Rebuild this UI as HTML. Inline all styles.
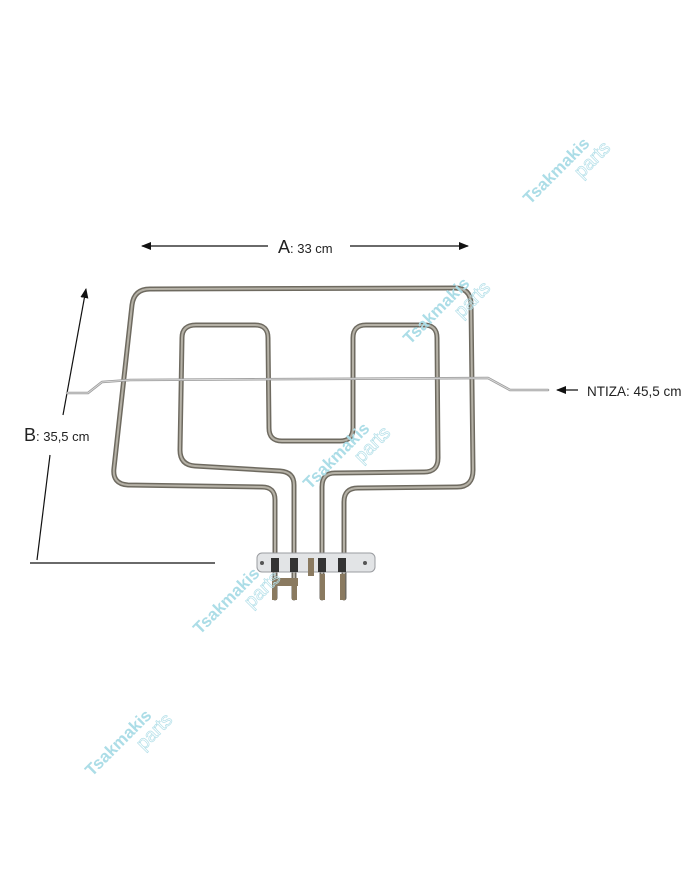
<!DOCTYPE html>
<html><head><style>
html,body{margin:0;padding:0;background:#fff;}
svg{display:block;}
.t{font-family:"Liberation Sans",sans-serif;fill:#222;}
.w{font-family:"Liberation Sans",sans-serif;fill:#acdde7;font-weight:bold;font-size:17px;}
.p{font-family:"Liberation Sans",sans-serif;fill:none;stroke:#b5e0e9;stroke-width:0.7;font-size:19px;}
</style></head><body>
<svg width="700" height="869" viewBox="0 0 700 869">
<defs>
<marker id="ar" markerWidth="10" markerHeight="8" refX="9" refY="4" orient="auto" markerUnits="userSpaceOnUse">
<path d="M0,0 L10,4 L0,8 z" fill="#111"/></marker>
</defs>
<line x1="268" y1="246" x2="142" y2="246" stroke="#111" stroke-width="1.2" marker-end="url(#ar)"/>
<line x1="350" y1="246" x2="468" y2="246" stroke="#111" stroke-width="1.2" marker-end="url(#ar)"/>
<text x="278" y="253" class="t" font-size="18">A<tspan font-size="13">: 33 cm</tspan></text>
<line x1="63" y1="415" x2="86" y2="289" stroke="#111" stroke-width="1.2" marker-end="url(#ar)"/>
<line x1="50" y1="455" x2="37" y2="560" stroke="#111" stroke-width="1.2"/>
<line x1="30" y1="563" x2="215" y2="563" stroke="#111" stroke-width="1.2"/>
<text x="24" y="441" class="t" font-size="18">B<tspan font-size="13">: 35,5 cm</tspan></text>
<line x1="578" y1="390" x2="557" y2="390" stroke="#111" stroke-width="1.2" marker-end="url(#ar)"/>
<text x="587" y="396" class="t" font-size="13.5">NTIZA: 45,5 cm</text>

<g fill="none" stroke-linecap="round" stroke-linejoin="round">
<g stroke="#6e6a60" stroke-width="5">
<path id="outer" d="M275,598 L275,500 Q275,487 262,487 L128,485 Q112,484 114,468 L132,305 Q134,289 150,289 L455,288 Q470,288 471,303 L473,470 Q473,487 457,487 L358,488 Q344,488 344,502 L344,598"/>
<path id="inner" d="M294,598 L294,485 Q294,472 280,471 L195,466 Q180,465 180,450 L182,338 Q182,325 196,325 L255,325 Q268,325 268,338 L269,428 Q269,441 282,441 L340,441 Q353,441 353,428 L353,338 Q353,325 366,325 L424,325 Q437,325 437,338 L438,458 Q438,472 424,472 L335,473 Q322,473 322,487 L322,598"/>
</g>
<g stroke="#b5b1a6" stroke-width="2">
<use href="#outer"/><use href="#inner"/>
</g>
<path d="M67,393 L88,393 L102,382 L130,380 L488,378 L510,390 L548,390" stroke="#9a9a9a" stroke-width="2.5"/>
<path d="M67,393 L88,393 L102,382 L130,380 L488,378 L510,390 L548,390" stroke="#d8d8d8" stroke-width="1"/>
</g>
<rect x="257" y="553" width="118" height="19" rx="5" fill="#e2e4e6" stroke="#9a9ca0"/>
<circle cx="262" cy="563" r="2" fill="#555"/><circle cx="365" cy="563" r="2" fill="#555"/>
<g fill="#333">
<rect x="271" y="558" width="8" height="14"/><rect x="290" y="558" width="8" height="14"/>
<rect x="318" y="558" width="8" height="14"/><rect x="338" y="558" width="8" height="14"/>
</g>
<g fill="#8a7a60">
<rect x="272" y="578" width="26" height="8"/><rect x="272" y="586" width="5" height="14"/><rect x="292" y="586" width="5" height="14"/>
<rect x="308" y="558" width="6" height="18"/>
<rect x="320" y="574" width="5" height="26"/><rect x="340" y="574" width="5" height="26"/>
</g>

<g transform="translate(530,205) rotate(-45)"><text class="w" x="0" y="0">Tsakmakis</text><text class="p" x="55" y="18">parts</text></g>
<g transform="translate(410,345) rotate(-45)"><text class="w" x="0" y="0">Tsakmakis</text><text class="p" x="55" y="18">parts</text></g>
<g transform="translate(310,490) rotate(-45)"><text class="w" x="0" y="0">Tsakmakis</text><text class="p" x="55" y="18">parts</text></g>
<g transform="translate(200,635) rotate(-45)"><text class="w" x="0" y="0">Tsakmakis</text><text class="p" x="55" y="18">parts</text></g>
<g transform="translate(92,777) rotate(-45)"><text class="w" x="0" y="0">Tsakmakis</text><text class="p" x="55" y="18">parts</text></g>
</svg>
</body></html>
